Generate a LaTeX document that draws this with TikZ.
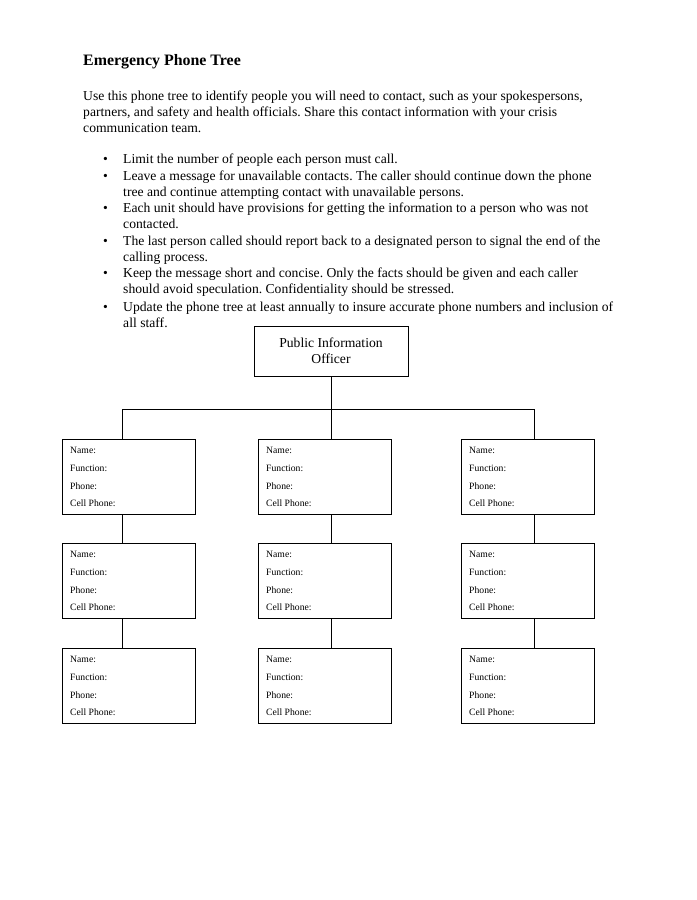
\documentclass[tikz,border=0pt]{standalone}
\usepackage{fontspec}
\setmainfont{Liberation Serif}
\frenchspacing
\begin{document}
\begin{tikzpicture}[x=0.88pt,y=-0.88pt,
  body/.style={anchor=base west,inner sep=0pt,font=\fontsize{12}{14}\selectfont},
  bul/.style={anchor=base west,inner sep=0pt,font=\fontsize{12}{14}\selectfont},
  card/.style={draw,line width=0.75pt,anchor=north west,minimum width=117pt,minimum height=66pt,inner sep=0pt,outer sep=0pt},
  field/.style={anchor=base west,inner sep=0pt,font=\fontsize{8.5}{10}\selectfont},
  conn/.style={line width=0.75pt}]
\useasboundingbox (0,0) rectangle (696,900);
\fill[white] (0,0) rectangle (696,900);
% title and text
\node[anchor=base west,inner sep=0pt,font=\fontsize{14}{16}\selectfont\bfseries] (title) at (83,65) {Emergency Phone Tree};
\node[body] (p1) at (83,100) {Use this phone tree to identify people you will need to contact, such as your spokespersons,};
\node[body] (p2) at (83,116) {partners, and safety and health officials. Share this contact information with your crisis};
\node[body] (p3) at (83,132) {communication team.};
% bullets
\foreach \y/\n in {163/1,180/2,212/3,245/4,277/5,311/6}{
  \node[bul] (b\n) at (103,\y) {•};
}
\node[body] (l1) at (123,163) {Limit the number of people each person must call.};
\node[body] (l2) at (123,180) {Leave a message for unavailable contacts. The caller should continue down the phone};
\node[body] (l3) at (123,196) {tree and continue attempting contact with unavailable persons.};
\node[body] (l4) at (123,212) {Each unit should have provisions for getting the information to a person who was not};
\node[body] (l5) at (123,228) {contacted.};
\node[body] (l6) at (123,245) {The last person called should report back to a designated person to signal the end of the};
\node[body] (l7) at (123,261) {calling process.};
\node[body] (l8) at (123,277) {Keep the message short and concise. Only the facts should be given and each caller};
\node[body] (l9) at (123,293) {should avoid speculation. Confidentiality should be stressed.};
\node[body] (l10) at (123,311) {Update the phone tree at least annually to insure accurate phone numbers and inclusion of};
\node[body] (l11) at (123,327) {all staff.};
% PIO box
\node[draw,line width=0.75pt,anchor=north west,minimum width=135.5pt,minimum height=44pt,inner sep=0pt,outer sep=0pt,
  align=center,font=\fontsize{12}{14}\selectfont] (pio) at (254,326) {Public Information\\Officer};
% cards
\foreach \c/\x in {1/62,2/258,3/461}{
  \foreach \r/\y in {1/439,2/543,3/648}{
    \node[card] (c\c\r) at (\x,\y) {};
    \node[field] (n\c\r) at (\x+8,\y+14) {Name:};
    \node[field] (f\c\r) at (\x+8,\y+32) {Function:};
    \node[field] (h\c\r) at (\x+8,\y+50) {Phone:};
    \node[field] (m\c\r) at (\x+8,\y+67) {Cell Phone:};
  }
}
% connectors
\coordinate (jn) at (331,409);
\coordinate (hl) at (122,409);
\coordinate (hr) at (534,409);
\draw[conn] (jn |- pio.south) -- (jn);
\draw[conn] (hl) -- (hr);
\draw[conn] (hl) -- (hl |- c11.north);
\draw[conn] (jn) -- (jn |- c21.north);
\draw[conn] (hr) -- (hr |- c31.north);
\draw[conn] (hl |- c11.south) -- (hl |- c12.north);
\draw[conn] (hl |- c12.south) -- (hl |- c13.north);
\draw[conn] (jn |- c21.south) -- (jn |- c22.north);
\draw[conn] (jn |- c22.south) -- (jn |- c23.north);
\draw[conn] (hr |- c31.south) -- (hr |- c32.north);
\draw[conn] (hr |- c32.south) -- (hr |- c33.north);
\end{tikzpicture}
\end{document}
